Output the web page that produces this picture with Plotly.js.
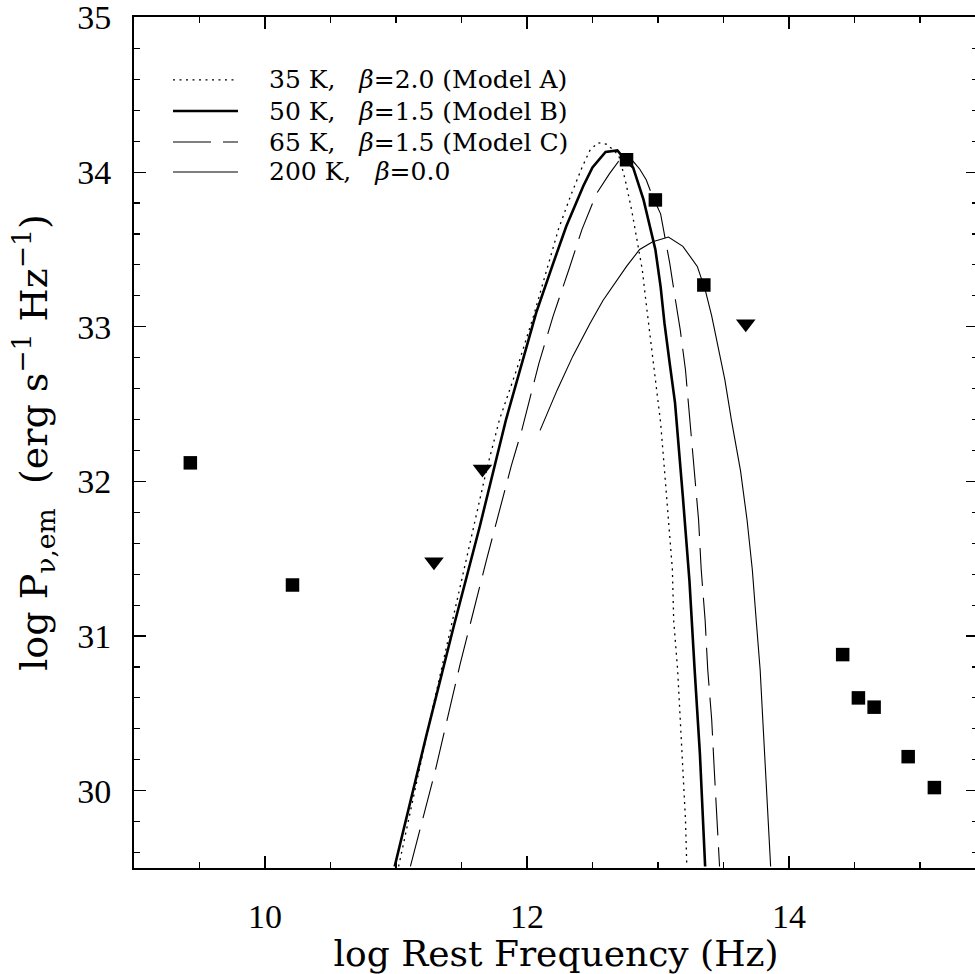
<!DOCTYPE html>
<html>
<head>
<meta charset="utf-8">
<script src="https://cdn.plot.ly/plotly-3.0.1.min.js"></script>
<style>html,body{margin:0;padding:0;overflow:hidden;background:#fff;}</style>
</head>
<body>
<div id="chart" style="width:980px;height:974px;"></div>
<script>
// ---- Data ----
const seriesNames = [
  '35 K,  β=2.0 (Model A)',
  '50 K,  β=1.5 (Model B)',
  '65 K,  β=1.5 (Model C)',
  '200 K,  β=0.0'
];

const modelA_x = [11.02, 11.26, 11.49, 11.69, 11.79, 11.92, 12.05, 12.15, 12.24, 12.33, 12.42, 12.48, 12.54, 12.61, 12.70, 12.75, 12.80, 12.84, 12.88, 12.91, 12.94, 12.98, 13.02, 13.05, 13.08, 13.11, 13.12, 13.15, 13.17, 13.19, 13.21, 13.22];
const modelA_y = [29.51, 30.46, 31.32, 32.07, 32.40, 32.72, 33.07, 33.37, 33.63, 33.84, 34.03, 34.14, 34.19, 34.18, 34.11, 33.95, 33.75, 33.56, 33.37, 33.15, 32.94, 32.68, 32.38, 32.07, 31.75, 31.43, 31.10, 30.78, 30.46, 30.13, 29.81, 29.51];

const modelB_x = [10.99, 11.23, 11.44, 11.64, 11.84, 11.96, 12.07, 12.20, 12.30, 12.43, 12.50, 12.60, 12.69, 12.75, 12.81, 12.89, 12.94, 12.98, 13.02, 13.05, 13.09, 13.13, 13.19, 13.24, 13.28, 13.32, 13.36];
const modelB_y = [29.51, 30.35, 31.06, 31.71, 32.40, 32.76, 33.09, 33.41, 33.65, 33.91, 34.03, 34.13, 34.14, 34.08, 34.03, 33.82, 33.65, 33.50, 33.26, 33.02, 32.76, 32.51, 31.90, 31.36, 30.78, 30.24, 29.51];

const modelC_x = [11.11, 11.30, 11.49, 11.69, 11.88, 11.96, 12.09, 12.20, 12.32, 12.42, 12.53, 12.63, 12.70, 12.76, 12.81, 12.86, 12.91, 12.96, 13.02, 13.05, 13.09, 13.13, 13.17, 13.21, 13.24, 13.28, 13.31, 13.33, 13.36, 13.38, 13.41, 13.43, 13.45, 13.47];
const modelC_y = [29.51, 30.13, 30.82, 31.49, 32.10, 32.33, 32.76, 33.07, 33.37, 33.63, 33.86, 33.99, 34.07, 34.09, 34.07, 34.02, 33.95, 33.84, 33.73, 33.60, 33.41, 33.19, 32.98, 32.72, 32.42, 32.07, 31.75, 31.43, 31.10, 30.78, 30.46, 30.13, 29.81, 29.51];

const hot_x = [12.10, 12.23, 12.35, 12.48, 12.58, 12.66, 12.76, 12.86, 12.96, 13.08, 13.19, 13.30, 13.36, 13.41, 13.46, 13.51, 13.56, 13.63, 13.68, 13.72, 13.75, 13.78, 13.80, 13.82, 13.84, 13.86];
const hot_y = [32.33, 32.59, 32.81, 33.02, 33.17, 33.27, 33.39, 33.50, 33.55, 33.58, 33.52, 33.39, 33.24, 33.07, 32.87, 32.66, 32.40, 32.07, 31.75, 31.43, 31.10, 30.78, 30.46, 30.13, 29.81, 29.51];

const detect_x = [9.43, 10.21, 12.76, 12.98, 13.35, 14.41, 14.53, 14.65, 14.91, 15.11];
const detect_y = [32.12, 31.33, 34.08, 33.82, 33.27, 30.88, 30.60, 30.54, 30.22, 30.02];

const limit_x = [11.29, 11.66, 13.67];
const limit_y = [31.48, 32.08, 33.02];

const xTickVals = [10, 12, 14];
const yTickVals = [30, 31, 32, 33, 34, 35];

// ---- Styles ----
const lineStyles = [
  {color: 'black', width: 1.3, dash: '2px,4.5px'},
  {color: 'black', width: 2.6, dash: 'solid'},
  {color: 'black', width: 1.1, dash: '38px,12px'},
  {color: 'black', width: 1.1, dash: 'solid'}
];
const curves = [[modelA_x, modelA_y], [modelB_x, modelB_y], [modelC_x, modelC_y], [hot_x, hot_y]];

const traces = curves.map((c, i) => ({
  x: c[0], y: c[1], type: 'scatter', mode: 'lines', name: seriesNames[i],
  line: Object.assign({shape: 'linear'}, lineStyles[i]), showlegend: false, hoverinfo: 'skip'
}));
traces.push({
  x: detect_x, y: detect_y, type: 'scatter', mode: 'markers', name: 'detections',
  marker: {symbol: 'square', size: 13.5, color: 'black', line: {width: 0}}, showlegend: false
});
traces.push({
  x: limit_x, y: limit_y, type: 'scatter', mode: 'markers', name: 'upper limits',
  marker: {symbol: 'triangle-down', size: 17, color: 'black', line: {width: 0}}, showlegend: false
});

// ---- Legend drawn inside the frame ----
const legRowsY = [0.926, 0.8895, 0.8531, 0.8179];
const shapes = [];
const annotations = [];
seriesNames.forEach((n, i) => {
  shapes.push({type: 'line', xref: 'paper', yref: 'paper', x0: 0.0462, x1: 0.1232,
    y0: legRowsY[i], y1: legRowsY[i], line: lineStyles[i]});
  const txt = n.replace('β', '<i>β</i>').replace(/  /g, '\u00a0\u00a0\u00a0');
  annotations.push({xref: 'paper', yref: 'paper', x: 0.1576, y: legRowsY[i],
    xanchor: 'left', yanchor: 'middle', showarrow: false, text: txt,
    font: {family: 'DejaVu Serif', size: 25, color: 'black'}});
});

const axisCommon = {
  showgrid: false, zeroline: false, showline: true, linecolor: 'black', linewidth: 2,
  mirror: 'allticks', ticks: 'inside', ticklen: 12, tickwidth: 1.2, tickcolor: 'black',
  ticklabeloverflow: 'allow',
  tickfont: {family: 'Liberation Serif', size: 34, color: 'black'}
};

const layout = {
  width: 980, height: 974,
  margin: {l: 134, r: 2, t: 17, b: 106},
  paper_bgcolor: 'white', plot_bgcolor: 'white',
  showlegend: false,
  xaxis: Object.assign({}, axisCommon, {
    range: [9, 15.443], tickmode: 'array', tickvals: xTickVals, ticktext: xTickVals.map(String),
    ticklabelstandoff: 17,
    minor: {dtick: 0.5, tick0: 0, ticks: 'inside', ticklen: 6, tickwidth: 1.2, tickcolor: 'black'},
    title: {text: 'log Rest Frequency (Hz)', font: {family: 'DejaVu Serif', size: 36, color: 'black'}, standoff: 6}
  }),
  yaxis: Object.assign({}, axisCommon, {
    range: [29.5, 35.003], tickmode: 'array', tickvals: yTickVals, ticktext: yTickVals.map(String),
    ticklabelstandoff: 14,
    minor: {dtick: 0.2, tick0: 0, ticks: 'inside', ticklen: 6, tickwidth: 1.2, tickcolor: 'black'},
    title: {text: '\u00a0\u00a0log P<sub>ν,em</sub>\u00a0\u00a0(erg s<sup>−1</sup> Hz<sup>−1</sup>)', font: {family: 'DejaVu Serif', size: 38, color: 'black'}, standoff: 18}
  }),
  shapes: shapes,
  annotations: annotations
};

Plotly.newPlot('chart', traces, layout, {displayModeBar: false, staticPlot: true});
</script>
</body>
</html>
